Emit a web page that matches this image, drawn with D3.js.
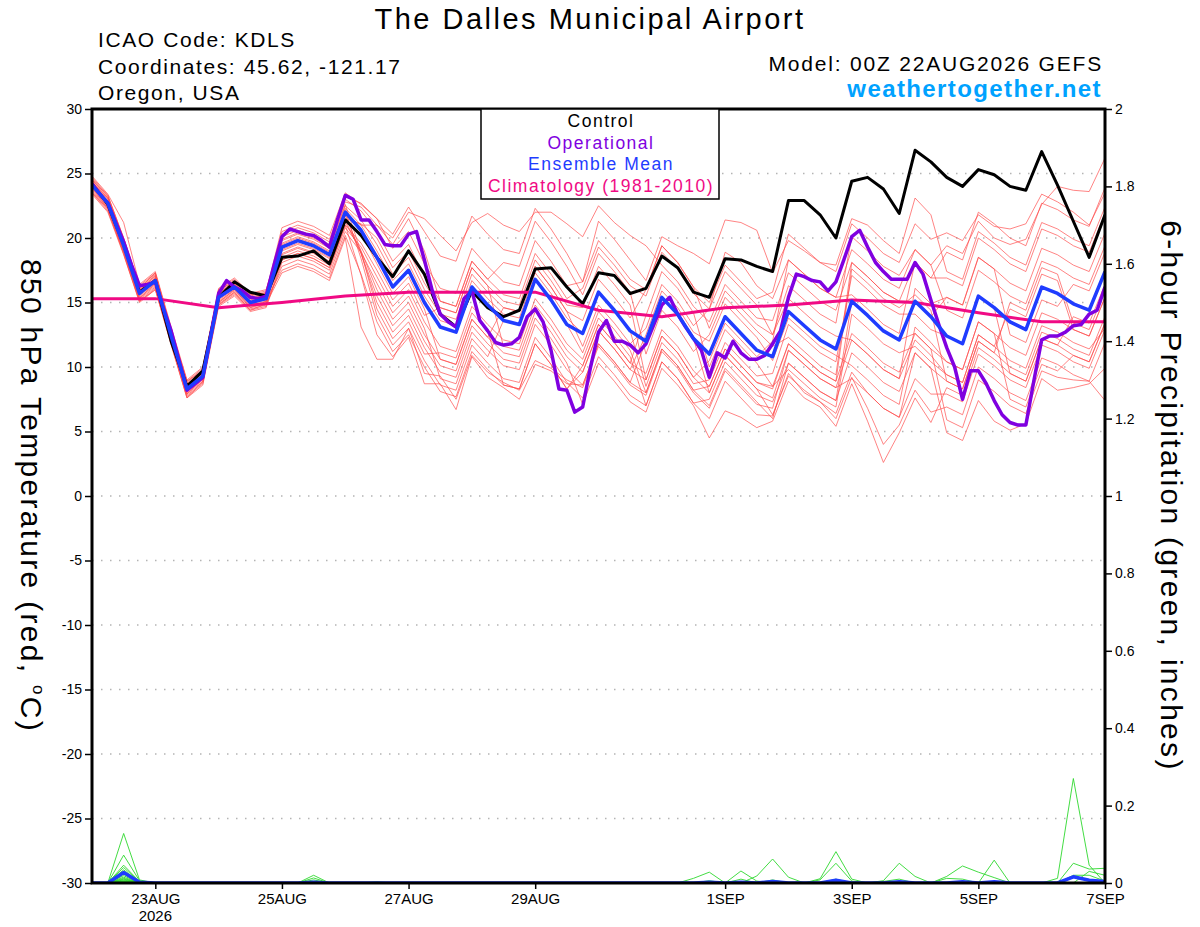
<!DOCTYPE html>
<html>
<head>
<meta charset="utf-8">
<script src="https://cdn.jsdelivr.net/npm/d3@7"></script>
<style>
    body { margin: 0; background: #fff; }
    svg { font-family: "Liberation Sans", Arial, sans-serif; }
</style>
</head>
<body>
<svg id="chart" width="1200" height="927"></svg>
<script>
// ---- data (6-hourly from 00Z 22AUG2026, 65 steps) ----
const stationName = "The Dalles Municipal Airport";
const infoLines = ["ICAO Code: KDLS", "Coordinates: 45.62, -121.17", "Oregon, USA"];
const modelLine = "Model: 00Z 22AUG2026 GEFS";
const legendItems = ["Control", "Operational", "Ensemble Mean", "Climatology (1981-2010)"];
const dateTicks = ["2026-08-23", "2026-08-25", "2026-08-27", "2026-08-29",
    "2026-09-01", "2026-09-03", "2026-09-05", "2026-09-07"];
const monthNames = ["JAN", "FEB", "MAR", "APR", "MAY", "JUN", "JUL", "AUG", "SEP", "OCT", "NOV", "DEC"];
const tempTicks = [-30, -25, -20, -15, -10, -5, 0, 5, 10, 15, 20, 25, 30];
const prcpTicks = [0, 0.2, 0.4, 0.6, 0.8, 1, 1.2, 1.4, 1.6, 1.8, 2];

const controlTemp = [24.2, 22.6, 19.5, 15.8, 16.7, 12.0, 8.5, 9.7, 15.4, 16.6, 15.8, 15.5,
    18.5, 18.6, 19.0, 18.0, 21.4, 20.2, 18.5, 17.0, 19.0, 17.2, 14.1, 13.1, 15.9, 14.6, 13.9, 14.4,
    17.6, 17.7, 16.2, 14.9, 17.3, 17.1, 15.7, 16.1, 18.6, 17.7, 15.8, 15.4, 18.4, 18.3, 17.8, 17.4,
    22.9, 22.9, 21.8, 20.0, 24.4, 24.7, 23.8, 21.9, 26.8, 25.9, 24.7, 24.0, 25.3, 24.9, 24.0, 23.7,
    26.7, 24.1, 21.3, 18.5, 21.8];

const meanTemp = [24.1, 22.7, 19.4, 15.7, 16.7, 12.4, 8.3, 9.3, 15.4, 16.2, 15.0, 15.3,
    19.3, 19.8, 19.4, 18.7, 22.0, 20.6, 18.5, 16.2, 17.5, 15.0, 13.1, 12.7, 16.2, 14.8, 13.6, 13.3,
    16.8, 15.2, 13.3, 12.6, 15.8, 14.4, 12.8, 12.0, 15.4, 14.1, 12.2, 11.0, 13.9, 12.6, 11.3, 10.8,
    14.3, 13.2, 12.1, 11.4, 15.1, 14.0, 12.8, 12.1, 15.1, 13.9, 12.4, 11.8, 15.5, 14.6, 13.5, 12.9,
    16.2, 15.7, 14.9, 14.4, 17.4];

// operational run is 3-hourly (129 steps)
const operationalTemp = [24.2, 23.4, 22.7, 21.2, 19.7, 17.9, 16.3, 16.4, 16.6, 14.6,
    12.8, 10.5, 8.2, 8.7, 9.2, 12.4, 15.7, 16.7, 16.2, 15.9,
    15.4, 15.3, 15.5, 17.9, 20.1, 20.7, 20.5, 20.3, 20.2, 19.8,
    19.3, 21.4, 23.3, 23.0, 21.4, 21.4, 20.5, 19.5, 19.4, 19.4,
    20.3, 20.5, 18.3, 15.9, 14.1, 13.5, 13.1, 15.3, 15.9, 13.6,
    12.8, 11.9, 11.7, 11.8, 12.3, 13.9, 14.5, 13.5, 11.3, 8.3,
    8.2, 6.5, 6.9, 10.0, 12.7, 13.6, 12.0, 12.0, 11.7, 11.1,
    11.8, 13.3, 14.8, 15.4, 14.1, 13.1, 12.2, 11.3, 9.2, 11.1,
    10.7, 12.0, 11.1, 10.6, 10.6, 10.9, 11.8, 12.8, 15.4, 17.2,
    17.0, 16.7, 16.6, 15.9, 16.6, 18.3, 20.1, 20.6, 19.3, 18.1,
    17.4, 16.8, 16.8, 16.8, 18.1, 17.2, 15.2, 13.3, 11.5, 10.0,
    7.5, 9.7, 9.7, 8.7, 7.4, 6.3, 5.7, 5.5, 5.5, 8.9,
    12.1, 12.4, 12.4, 12.7, 13.2, 13.3, 14.1, 14.4, 16.2];

// climatology, one value per day (00Z)
const climTemp = [15.3, 15.3, 14.6, 15.0, 15.5, 15.8, 15.8, 15.8, 14.4, 13.9, 14.6, 14.8,
    15.2, 15.0, 14.2, 13.5, 13.5];

const memberTemp = [
    [24.6, 23.2, 19.9, 16.2, 17.2, 12.9, 8.8, 9.8, 15.9, 16.7, 15.5, 15.8, 20.8, 21.3, 20.9, 20.2, 23.5, 22.6,
     21.5, 20.3, 22.4, 20.5, 18.6, 18.2, 21.7, 20.3, 19.1, 18.8, 22.3, 20.7, 18.8,
     16.6, 19.8, 18.4, 16.8, 16.0, 19.4, 18.1, 16.2, 15.0, 17.9, 16.6, 15.3, 15.8,
     20.3, 19.2, 18.1, 17.4, 21.1, 20.0, 18.8, 18.1, 21.1, 19.9,
     20.4, 19.8, 21.8, 20.9, 20.7, 21.1, 23.4, 22.8, 22.0, 21.0, 23.5],
    [24.4, 23.0, 19.7, 16.0, 17.0, 12.7, 8.6, 9.6, 15.7, 16.5, 15.3, 15.6, 20.5, 21.0, 20.6, 19.9, 23.2, 22.7,
     21.5, 19.2, 20.5, 18.0, 16.1, 15.7, 19.2, 17.8, 16.6, 16.3, 19.8, 18.2, 16.3,
     16.6, 21.3, 19.9, 18.3, 16.7, 20.1, 19.4, 18.8, 18.0, 21.4, 21.2, 20.6, 17.3,
     19.8, 19.0, 18.1, 17.9, 21.5, 21.0, 19.8, 18.8, 23.1, 21.8,
     17.4, 16.8, 20.5, 19.6, 18.5, 17.9, 21.2, 20.7, 19.9, 19.4, 22.4],
    [23.8, 22.4, 19.1, 15.4, 16.4, 12.1, 8.0, 9.0, 15.1, 15.9, 14.7, 15.0, 20.1, 20.6, 20.2, 19.5, 22.8, 22.4,
     21.0, 20.0, 22.0, 21.5, 20.2, 19.0, 21.2, 21.9, 21.0, 20.5, 22.0, 22.0, 21.1,
     20.1, 22.5, 21.2, 20.2, 19.4, 17.9, 16.6, 14.7, 13.5, 16.4, 15.1, 13.8, 13.6,
     17.3, 16.2, 15.1, 14.4, 18.1, 17.0, 15.8, 15.1, 18.1, 16.9,
     18.9, 18.3, 22.0, 21.1, 20.0, 19.4, 22.7, 22.2, 21.4, 20.9, 23.9],
    [24.7, 23.3, 20.0, 16.3, 17.3, 13.0, 8.9, 9.9, 16.0, 16.8, 15.6, 15.9, 20.3, 20.8, 20.4, 19.7, 23.0, 22.1,
     20.5, 18.2, 19.5, 17.0, 15.1, 14.7, 18.2, 16.8, 15.6, 15.3, 18.8, 17.2, 15.3,
     16.1, 19.3, 17.9, 16.3, 15.5, 18.9, 17.6, 15.7, 14.5, 18.9, 18.1, 16.3, 15.3,
     18.3, 17.2, 16.1, 15.4, 19.1, 18.0, 16.8, 16.1, 19.1, 17.9,
     14.4, 13.8, 17.5, 16.6, 15.5, 14.9, 18.2, 17.7, 16.9, 16.4, 19.4],
    [23.6, 22.2, 18.9, 15.2, 16.2, 11.9, 7.8, 8.8, 14.9, 15.7, 14.5, 14.8, 19.8, 20.3, 19.9, 19.2, 22.5, 21.4,
     19.5, 17.2, 18.5, 16.0, 14.1, 13.7, 17.2, 15.8, 14.6, 14.3, 17.8, 16.2, 14.3,
     13.6, 16.8, 15.4, 13.8, 16.0, 19.4, 18.1, 16.2, 13.0, 15.9, 14.6, 13.3, 12.5,
     16.3, 15.2, 14.1, 13.4, 20.1, 19.0, 17.8, 17.1, 19.1, 17.9,
     19.4, 18.8, 21.3, 20.0, 19.5, 19.9, 22.6, 24.0, 23.7, 23.6, 26.2],
    [24.3, 22.9, 19.6, 15.9, 16.9, 12.6, 8.5, 9.5, 15.6, 16.4, 15.2, 15.5, 19.0, 19.5, 19.1, 18.4, 21.7, 21.0,
     21.0, 19.5, 21.5, 19.0, 15.1, 14.7, 18.2, 16.8, 18.1, 17.8, 21.3, 19.7, 17.8,
     15.6, 18.8, 17.4, 15.8, 11.0, 14.4, 13.1, 11.2, 12.5, 15.4, 14.1, 12.8, 11.6,
     12.3, 11.2, 10.1, 9.4, 18.1, 17.0, 15.8, 15.1, 15.1, 13.9,
     15.4, 14.8, 18.5, 17.6, 16.5, 15.9, 19.2, 18.7, 17.9, 17.4, 20.4],
    [23.9, 22.5, 19.2, 15.5, 16.5, 12.2, 8.1, 9.1, 15.2, 16.0, 14.8, 15.1, 19.5, 20.0, 19.6, 18.9, 22.2, 20.4,
     18.0, 15.7, 17.0, 14.5, 10.6, 10.2, 13.7, 12.3, 14.6, 14.3, 17.8, 16.2, 14.3,
     11.6, 14.8, 13.4, 11.8, 13.0, 16.4, 15.1, 13.2, 14.5, 17.4, 16.1, 14.8, 12.5,
     15.3, 14.2, 13.1, 12.4, 12.1, 11.0, 9.8, 9.1, 16.1, 14.9,
     15.4, 14.8, 18.5, 17.6, 12.5, 11.9, 15.2, 14.7, 16.4, 15.9, 18.9],
    [24.5, 23.1, 19.8, 16.1, 17.1, 12.8, 8.7, 9.7, 15.8, 16.6, 15.4, 15.7, 18.8, 19.3, 18.9, 18.2, 21.5, 21.1,
     20.0, 17.7, 19.0, 16.5, 14.6, 14.2, 17.7, 16.3, 15.1, 14.8, 18.3, 16.7, 14.8,
     14.6, 17.8, 16.4, 14.8, 9.0, 12.4, 11.1, 9.2, 10.5, 13.4, 12.1, 10.8, 12.0,
     18.3, 17.2, 16.1, 15.4, 15.6, 14.5, 13.3, 12.6, 18.1, 16.9,
     16.9, 16.3, 20.0, 19.1, 18.0, 17.4, 20.7, 20.2, 19.4, 18.9, 21.9],
    [23.5, 22.1, 18.8, 15.1, 16.1, 11.8, 7.7, 8.7, 14.8, 15.6, 14.4, 14.7, 18.3, 18.8, 18.4, 17.7, 21.0, 19.6,
     17.5, 15.2, 16.5, 14.0, 14.6, 14.2, 17.7, 16.3, 11.6, 11.3, 14.8, 13.2, 11.3,
     10.1, 13.3, 11.9, 10.3, 14.0, 17.4, 16.1, 14.2, 10.0, 12.9, 11.6, 10.3, 8.5,
     9.8, 8.7, 7.6, 6.9, 14.1, 13.0, 11.8, 11.1, 11.6, 10.4,
     9.4, 8.8, 12.5, 11.6, 14.5, 13.9, 17.2, 16.7, 12.9, 12.4, 15.4],
    [24.0, 22.8, 19.6, 15.6, 16.9, 12.5, 8.2, 9.4, 15.3, 16.3, 15.1, 15.2, 19.6, 20.1, 19.7, 19.0, 22.3, 21.0,
     19.0, 16.7, 18.0, 15.5, 13.6, 13.2, 16.7, 15.3, 14.1, 13.8, 17.3, 15.7, 13.8,
     12.6, 15.8, 14.4, 12.8, 8.5, 11.9, 10.6, 8.7, 9.0, 11.9, 10.6, 9.3, 9.5,
     13.3, 12.2, 11.1, 10.4, 17.1, 16.0, 14.8, 14.1, 14.1, 12.9,
     12.4, 11.8, 15.5, 14.6, 9.5, 8.9, 12.2, 11.7, 13.9, 13.4, 16.4],
    [24.3, 23.1, 19.8, 15.9, 17.1, 12.6, 8.7, 9.5, 15.8, 16.4, 15.4, 15.5, 18.5, 19.0, 18.6, 17.9, 21.2, 19.0,
     16.0, 13.7, 15.0, 12.5, 10.6, 10.2, 13.7, 12.3, 11.1, 10.8, 14.3, 12.7, 10.8,
     9.6, 12.8, 11.4, 9.8, 12.5, 15.9, 14.6, 12.7, 12.0, 14.9, 13.6, 12.3, 10.5,
     13.8, 12.7, 11.6, 10.9, 10.1, 9.0, 7.8, 7.1, 13.1, 11.9,
     10.4, 9.8, 13.5, 12.6, 11.5, 10.9, 14.2, 13.7, 12.9, 12.4, 15.4],
    [23.7, 22.3, 19.0, 15.3, 16.3, 12.0, 7.9, 8.9, 15.0, 15.8, 14.6, 14.9, 17.8, 18.3, 17.9, 17.2, 20.5, 18.9,
     16.5, 14.2, 15.5, 13.0, 9.1, 8.7, 12.2, 10.8, 13.6, 13.3, 16.8, 15.2, 13.3,
     11.1, 14.3, 12.9, 11.3, 8.0, 11.4, 10.1, 8.2, 8.5, 11.4, 10.1, 8.8, 8.5,
     11.8, 10.7, 9.6, 8.9, 17.6, 16.5, 15.3, 14.6, 15.6, 14.4,
     8.9, 8.3, 12.0, 11.1, 15.0, 14.4, 17.7, 17.2, 13.4, 12.9, 15.9],
    [24.2, 22.8, 19.5, 15.8, 16.8, 12.5, 8.4, 9.4, 15.5, 16.3, 15.1, 15.4, 19.1, 19.6, 19.2, 18.5, 21.8, 18.8,
     15.0, 12.7, 14.0, 11.5, 9.6, 9.2, 12.7, 11.3, 10.1, 9.8, 13.3, 11.7, 9.8,
     8.6, 11.8, 10.4, 8.8, 12.0, 15.4, 14.1, 12.2, 8.0, 10.9, 9.6, 8.3, 7.6,
     11.3, 10.2, 9.1, 8.4, 9.1, 8.0, 6.8, 6.1, 11.1, 9.9,
     8.9, 8.3, 12.0, 11.1, 10.0, 9.4, 12.7, 12.2, 11.4, 10.9, 13.9],
    [23.4, 22.0, 18.7, 15.0, 16.0, 11.7, 7.6, 8.6, 14.7, 15.5, 14.3, 14.6, 18.1, 18.6, 18.2, 17.5, 20.8, 19.3,
     17.0, 14.7, 16.0, 13.5, 11.6, 11.2, 14.7, 13.3, 12.1, 11.8, 15.3, 13.7, 11.8,
     10.6, 13.8, 12.4, 10.8, 7.0, 10.4, 9.1, 7.2, 7.5, 10.4, 9.1, 7.8, 7.3,
     10.3, 9.2, 8.1, 7.4, 15.1, 14.0, 12.8, 12.1, 12.6, 11.4,
     10.4, 9.8, 13.5, 12.6, 7.5, 6.9, 10.2, 9.7, 10.9, 10.4, 13.4],
    [24.8, 23.4, 21.2, 16.4, 17.4, 13.1, 9.0, 10.0, 16.1, 16.9, 15.7, 16.0, 19.9, 20.4, 20.0, 19.3, 22.6, 18.9,
     14.5, 12.2, 13.5, 11.0, 11.1, 10.7, 14.2, 12.8, 8.6, 8.3, 11.8, 10.2, 8.3,
     9.6, 12.8, 11.4, 9.8, 9.0, 12.4, 11.1, 9.2, 8.0, 10.9, 9.6, 8.3, 6.3,
     9.3, 8.2, 7.3, 6.4, 9.6, 8.0, 6.8, 6.1, 9.1, 7.9,
     7.9, 7.3, 11.0, 10.1, 9.0, 8.4, 11.7, 11.2, 10.4, 9.9, 12.9],
    [24.0, 22.6, 19.3, 15.6, 16.6, 12.3, 8.2, 9.2, 15.3, 16.1, 14.9, 15.2, 17.5, 18.0, 17.6, 16.9, 20.2, 17.2,
     13.5, 11.2, 12.5, 10.0, 8.1, 7.7, 11.2, 9.8, 8.6, 8.3, 11.8, 10.2, 8.3,
     10.1, 13.3, 11.9, 10.3, 9.5, 12.9, 11.6, 9.7, 8.5, 11.4, 10.1, 8.8, 8.3,
     11.8, 10.7, 9.6, 8.9, 12.6, 11.5, 10.3, 9.6, 12.6, 11.4,
     5.9, 5.3, 9.0, 8.1, 7.0, 6.4, 9.7, 9.2, 9.0, 8.9, 7.4],
    [24.4, 22.8, 19.5, 16.0, 16.8, 12.7, 8.4, 9.6, 15.5, 16.5, 15.3, 15.4, 18.7, 19.2, 18.8, 18.1, 21.4, 18.8,
     15.5, 13.2, 14.5, 12.0, 10.1, 9.7, 13.2, 11.8, 10.6, 10.3, 13.8, 12.2, 10.3,
     7.1, 10.3, 8.9, 7.3, 6.5, 9.9, 8.6, 7.0, 4.5, 6.6, 6.1, 5.3, 5.8,
     8.9, 7.6, 6.9, 5.4, 8.7, 5.8, 2.6, 4.9, 7.6, 5.7,
     8.4, 7.8, 11.5, 10.6, 9.5, 8.9, 12.2, 11.7, 10.9, 10.4, 13.4],
    [23.9, 22.3, 19.0, 15.3, 16.5, 12.0, 7.9, 9.1, 15.0, 16.0, 14.6, 15.1, 18.3, 18.8, 18.4, 17.7, 21.0, 17.1,
     12.5, 10.8, 12.3, 8.7, 8.7, 6.7, 10.8, 9.2, 8.4, 7.5, 10.2, 9.7, 8.7,
     8.6, 11.8, 10.4, 8.8, 8.0, 11.4, 10.1, 8.2, 7.0, 9.9, 8.6, 7.3, 6.0,
     10.3, 9.2, 8.1, 7.4, 11.1, 10.0, 8.8, 8.1, 11.1, 9.9,
     4.9, 4.3, 7.4, 5.8, 5.1, 5.6, 9.1, 8.2, 8.4, 8.7, 9.9],
    [24.5, 23.3, 20.0, 16.1, 17.3, 12.8, 8.9, 9.7, 16.0, 16.6, 15.6, 15.7, 19.4, 19.9, 19.5, 18.8, 22.1, 18.4,
     14.0, 11.7, 13.0, 10.5, 8.6, 8.2, 11.7, 10.3, 9.1, 8.8, 12.3, 10.7, 8.8,
     7.6, 10.8, 9.4, 7.8, 7.0, 10.4, 9.1, 7.2, 6.0, 8.9, 7.6, 6.3, 6.2,
     9.5, 8.0, 7.3, 6.0, 9.2, 6.8, 4.0, 5.5, 8.2, 6.5,
     6.9, 6.3, 10.0, 9.1, 8.0, 7.4, 10.7, 10.2, 9.4, 8.9, 11.9],
    [23.5, 22.3, 18.8, 15.1, 16.0, 11.8, 7.6, 8.9, 14.8, 15.8, 14.4, 14.9, 17.3, 17.8, 17.4, 16.7, 20.0, 13.1,
     10.6, 10.6, 13.0, 9.5, 9.3, 7.5, 10.9, 9.6, 8.8, 8.2, 10.5, 9.9, 9.0,
     8.4, 11.6, 10.2, 8.6, 7.8, 11.2, 9.9, 8.0, 6.8, 9.7, 8.4, 7.1, 6.8,
     11.3, 10.2, 9.1, 8.4, 12.1, 11.0, 9.8, 9.1, 12.1, 10.9,
     9.4, 8.8, 12.5, 11.6, 10.5, 9.9, 13.2, 12.7, 11.9, 11.4, 13.0]
];

// 6-hour precipitation: [step, inches] for steps with rain, every other step is 0
const memberRain = [
    [[2, 0.128], [3, 0.008], [14, 0.02], [42, 0.018], [43, 0.062], [44, 0.015]],
    [[2, 0.072], [3, 0.006], [46, 0.011], [47, 0.081], [48, 0.01]],
    [[2, 0.046], [3, 0.004], [38, 0.012], [39, 0.028]],
    [[2, 0.04], [3, 0.003], [14, 0.013], [50, 0.006], [51, 0.051], [52, 0.017]],
    [[2, 0.034], [3, 0.002], [41, 0.031], [42, 0.005]],
    [[2, 0.028], [3, 0.002], [54, 0.017], [55, 0.044], [56, 0.028], [57, 0.014]],
    [[2, 0.023], [3, 0.001], [39, 0.006]],
    [[2, 0.019], [14, 0.008], [57, 0.059]],
    [[2, 0.015], [41, 0.01], [43, 0.008]],
    [[2, 0.012], [18, 0.003], [50, 0.004], [51, 0.01]],
    [[2, 0.01], [54, 0.012], [55, 0.01]],
    [[2, 0.008], [46, 0.008], [47, 0.051], [48, 0.005]],
    [[2, 0.006], [62, 0.051], [63, 0.036], [64, 0.038]],
    [[2, 0.005], [47, 0.01]],
    [[2, 0.004], [63, 0.03], [64, 0.02]],
    [[2, 0.003], [61, 0.012], [62, 0.27], [63, 0.046]],
    [[2, 0.002]],
    [[2, 0.002], [62, 0.02], [63, 0.02], [64, 0.005]],
    [[2, 0.001]],
    [[2, 0.001]]
];
const meanRain = [[2, 0.027], [3, 0.002], [14, 0.002], [39, 0.002], [41, 0.002], [43, 0.004],
    [47, 0.007], [51, 0.003], [55, 0.003], [57, 0.003], [62, 0.016], [63, 0.007], [64, 0.004]];

// ---- layout ----
const plot = { left: 92, right: 1105, top: 109, bottom: 883 };
const nSteps = 65;
const t0 = Date.UTC(2026, 7, 22);
const hourMs = 3600 * 1000;
const timeAt = (i, stepHours) => new Date(t0 + i * stepHours * hourMs);

const colors = {
    member: "#ff4848",
    rain: "#2ed82e",
    control: "#000000",
    operational: "#8000e0",
    mean: "#1f3cff",
    clim: "#f00a84",
    site: "#00a2ff"
};

const svg = d3.select("#chart");

const x = d3.scaleUtc()
    .domain([timeAt(0, 6), timeAt(nSteps - 1, 6)])
    .range([plot.left, plot.right]);
const yTemp = d3.scaleLinear().domain([-30, 30]).range([plot.bottom, plot.top]);
const yPrcp = d3.scaleLinear().domain([0, 2]).range([plot.bottom, plot.top]);

svg.append("defs").append("clipPath").attr("id", "plotClip")
    .append("rect")
    .attr("x", plot.left).attr("y", plot.top)
    .attr("width", plot.right - plot.left).attr("height", plot.bottom - plot.top);

// dotted grid
svg.append("g")
    .selectAll("line")
    .data(tempTicks.filter(d => d > -30 && d < 30))
    .join("line")
    .attr("x1", plot.left).attr("x2", plot.right)
    .attr("y1", d => yTemp(d)).attr("y2", d => yTemp(d))
    .attr("stroke", "#b4b4b4")
    .attr("stroke-width", 1.5)
    .attr("stroke-dasharray", "1.5,7.5");

const lines = svg.append("g").attr("clip-path", "url(#plotClip)");

const tempLine = step => d3.line()
    .x((d, i) => x(timeAt(i, step)))
    .y(d => yTemp(d));
const rainLine = d3.line()
    .x((d, i) => x(timeAt(i, 6)))
    .y(d => yPrcp(d));

const expandRain = list => {
    const arr = new Array(nSteps).fill(0);
    list.forEach(([i, v]) => { arr[i] = v; });
    return arr;
};

// ensemble members
lines.append("g")
    .selectAll("path")
    .data(memberTemp)
    .join("path")
    .attr("d", tempLine(6))
    .attr("fill", "none")
    .attr("stroke", colors.member)
    .attr("stroke-opacity", 0.8)
    .attr("stroke-width", 0.85);

lines.append("g")
    .selectAll("path")
    .data(memberRain.map(expandRain))
    .join("path")
    .attr("d", rainLine)
    .attr("fill", "none")
    .attr("stroke", colors.rain)
    .attr("stroke-width", 0.9);

lines.append("path")
    .attr("d", rainLine(expandRain(meanRain)))
    .attr("fill", "none")
    .attr("stroke", colors.mean)
    .attr("stroke-width", 3.5)
    .attr("stroke-linejoin", "round");

// main lines
const mainLines = [
    { values: controlTemp, step: 6, color: colors.control, width: 3 },
    { values: climTemp, step: 24, color: colors.clim, width: 3 },
    { values: operationalTemp, step: 3, color: colors.operational, width: 3.5 },
    { values: meanTemp, step: 6, color: colors.mean, width: 3.5 }
];
mainLines.forEach(s => {
    lines.append("path")
        .attr("d", tempLine(s.step)(s.values))
        .attr("fill", "none")
        .attr("stroke", s.color)
        .attr("stroke-width", s.width)
        .attr("stroke-linejoin", "round");
});

// frame
svg.append("rect")
    .attr("x", plot.left).attr("y", plot.top)
    .attr("width", plot.right - plot.left).attr("height", plot.bottom - plot.top)
    .attr("fill", "none")
    .attr("stroke", "#000")
    .attr("stroke-width", 3);

// axes
const styleAxis = g => {
    g.select(".domain").remove();
    g.selectAll(".tick line").attr("stroke", "#000").attr("stroke-width", 1.5);
    g.selectAll(".tick text").attr("fill", "#000").attr("font-family", "Liberation Sans, Arial, sans-serif");
};

svg.append("g")
    .attr("transform", `translate(${plot.left},0)`)
    .call(d3.axisLeft(yTemp).tickValues(tempTicks).tickSize(7).tickPadding(3).tickFormat(d => String(d)))
    .call(styleAxis)
    .selectAll(".tick text").attr("font-size", 14);

svg.append("g")
    .attr("transform", `translate(${plot.right},0)`)
    .call(d3.axisRight(yPrcp).tickValues(prcpTicks).tickSize(7).tickPadding(3)
        .tickFormat(d => String(+d.toFixed(1))))
    .call(styleAxis)
    .selectAll(".tick text").attr("font-size", 14);

const bottomAxis = svg.append("g")
    .attr("transform", `translate(0,${plot.bottom})`)
    .call(d3.axisBottom(x)
        .tickValues(dateTicks.map(d => new Date(d + "T00:00:00Z")))
        .tickSize(6).tickPadding(4)
        .tickFormat(d => `${d.getUTCDate()}${monthNames[d.getUTCMonth()]}`))
    .call(styleAxis);
bottomAxis.selectAll(".tick text").attr("font-size", 15);

svg.append("text")
    .attr("x", x(new Date(dateTicks[0] + "T00:00:00Z")))
    .attr("y", 921)
    .attr("text-anchor", "middle")
    .attr("font-size", 15)
    .text("2026");

// titles
svg.append("text")
    .attr("x", 590).attr("y", 29)
    .attr("text-anchor", "middle")
    .attr("font-size", 29)
    .attr("letter-spacing", 2.5)
    .text(stationName);

svg.append("g")
    .selectAll("text")
    .data(infoLines)
    .join("text")
    .attr("x", 98)
    .attr("y", (d, i) => 47 + i * 26.5)
    .attr("font-size", 21)
    .attr("letter-spacing", 1.6)
    .text(d => d);

svg.append("text")
    .attr("x", 1103).attr("y", 71)
    .attr("text-anchor", "end")
    .attr("font-size", 21)
    .attr("letter-spacing", 1.8)
    .text(modelLine);

svg.append("text")
    .attr("x", 1102).attr("y", 97)
    .attr("text-anchor", "end")
    .attr("font-size", 24)
    .attr("font-weight", "bold")
    .attr("letter-spacing", 1.4)
    .attr("fill", colors.site)
    .text("weathertogether.net");

// legend
const legendColors = [colors.control, colors.operational, colors.mean, colors.clim];
svg.append("rect")
    .attr("x", 481).attr("y", plot.top)
    .attr("width", 238).attr("height", 90)
    .attr("fill", "#fff")
    .attr("stroke", "#000")
    .attr("stroke-width", 1.5);
svg.append("g")
    .selectAll("text")
    .data(legendItems)
    .join("text")
    .attr("x", 601)
    .attr("y", (d, i) => 127 + i * 21.5)
    .attr("text-anchor", "middle")
    .attr("font-size", 17.5)
    .attr("letter-spacing", 1.5)
    .attr("fill", (d, i) => legendColors[i])
    .text(d => d);

// axis titles
const leftTitle = svg.append("text")
    .attr("transform", `translate(21,496) rotate(90)`)
    .attr("text-anchor", "middle")
    .attr("font-size", 30)
    .attr("letter-spacing", 2.3);
leftTitle.append("tspan").text("850 hPa Temperature (red, ");
leftTitle.append("tspan").attr("font-size", 17).attr("dy", -12).text("o");
leftTitle.append("tspan").attr("dy", 12).text("C)");

svg.append("text")
    .attr("transform", `translate(1161,496) rotate(90)`)
    .attr("text-anchor", "middle")
    .attr("font-size", 30)
    .attr("letter-spacing", 2.3)
    .text("6-hour Precipitation (green, inches)");
</script>
</body>
</html>
